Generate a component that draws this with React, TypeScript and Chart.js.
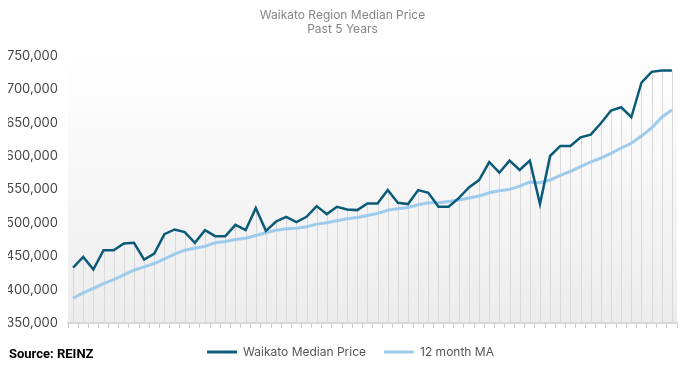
import React, { useEffect, useRef } from "react";
import { Chart, registerables } from "chart.js";
Chart.register(...registerables);

const months = [
  "Jun-16","Jul-16","Aug-16","Sep-16","Oct-16","Nov-16","Dec-16","Jan-17","Feb-17","Mar-17","Apr-17","May-17",
  "Jun-17","Jul-17","Aug-17","Sep-17","Oct-17","Nov-17","Dec-17","Jan-18","Feb-18","Mar-18","Apr-18","May-18",
  "Jun-18","Jul-18","Aug-18","Sep-18","Oct-18","Nov-18","Dec-18","Jan-19","Feb-19","Mar-19","Apr-19","May-19",
  "Jun-19","Jul-19","Aug-19","Sep-19","Oct-19","Nov-19","Dec-19","Jan-20","Feb-20","Mar-20","Apr-20","May-20",
  "Jun-20","Jul-20","Aug-20","Sep-20","Oct-20","Nov-20","Dec-20","Jan-21","Feb-21","Mar-21","Apr-21","May-21",
];

const medianPrice = [
  433000, 449000, 430000, 459000, 459000, 469000, 470000, 445000, 454000, 483000,
  490000, 486000, 470000, 489000, 480000, 480000, 497000, 489000, 522000, 488000,
  502000, 509000, 501000, 509000, 525000, 513000, 524000, 520000, 519000, 529000,
  529000, 549000, 530000, 528000, 549000, 545000, 524000, 524000, 537000, 553000,
  564000, 591000, 575000, 593000, 579000, 593000, 528000, 600000, 615000, 615000,
  628000, 632000, 649000, 668000, 673000, 658000, 710000, 726000, 728000, 728000,
];

const movingAverage = [
  387000, 395000, 402000, 409000, 415000, 422000, 429000, 434000, 439000, 446000,
  453000, 459000, 462000, 465000, 470000, 472000, 475000, 477000, 481000, 485000,
  489000, 491000, 492000, 494000, 498000, 500000, 503000, 506000, 508000, 511000,
  514000, 519000, 521000, 523000, 527000, 530000, 530000, 532000, 534000, 537000,
  540000, 545000, 548000, 550000, 555000, 561000, 560000, 564000, 571000, 577000,
  584000, 591000, 597000, 604000, 612000, 619000, 630000, 642000, 658000, 669000,
];

const seriesNames = ["Waikato Median Price", "12 month MA"];
const titleLines = ["Waikato Region Median Price", "Past 5 Years"];
const yMin = 350000;
const yMax = 750000;
const yStep = 50000;

const DARK = "#0b5a78";
const LIGHT = "#9dcbec";

const bgPlugin = {
  id: "plotBg",
  beforeDraw(chart: any) {
    const { ctx, chartArea } = chart;
    if (!chartArea) return;
    const g = ctx.createLinearGradient(0, chartArea.top, 0, chartArea.bottom);
    g.addColorStop(0, "#ffffff");
    g.addColorStop(1, "#ececec");
    ctx.save();
    ctx.fillStyle = g;
    ctx.fillRect(chartArea.left, chartArea.top, chartArea.right - chartArea.left, chartArea.bottom - chartArea.top);
    ctx.restore();
  },
};

const dropLinesPlugin = {
  id: "dropLines",
  beforeDatasetsDraw(chart: any) {
    const { ctx, chartArea } = chart;
    const meta = chart.getDatasetMeta(0);
    ctx.save();
    ctx.strokeStyle = "#d9d9d9";
    ctx.lineWidth = 1;
    meta.data.forEach((pt: any) => {
      const x = Math.round(pt.x) + 0.5;
      ctx.beginPath();
      ctx.moveTo(x, pt.y);
      ctx.lineTo(x, chartArea.bottom);
      ctx.stroke();
    });
    ctx.restore();
  },
};

const legendShiftPlugin = {
  id: "legendShift",
  afterLayout(chart: any) {
    const lg = chart.legend;
    if (lg) {
      lg.left += 8;
      lg.right += 8;
    }
  },
};

export default function App() {
  const ref = useRef<HTMLCanvasElement | null>(null);
  useEffect(() => {
    if (!ref.current) return;
    Chart.defaults.font.family = "Inter, 'Noto Sans', sans-serif";
    const chart = new Chart(ref.current, {
      type: "line",
      data: {
        labels: months,
        datasets: [
          {
            label: seriesNames[0],
            data: medianPrice,
            borderColor: DARK,
            backgroundColor: DARK,
            borderWidth: 2.5,
            pointRadius: 0,
            tension: 0,
          },
          {
            label: seriesNames[1],
            data: movingAverage,
            borderColor: LIGHT,
            backgroundColor: LIGHT,
            borderWidth: 3,
            pointRadius: 0,
            tension: 0,
          },
        ],
      },
      options: {
        animation: false,
        responsive: true,
        maintainAspectRatio: false,
        layout: { padding: { left: 8, right: 15, top: 0, bottom: 1 } },
        plugins: {
          title: {
            display: true,
            text: titleLines,
            color: "#858585",
            font: { size: 12, weight: "normal" },
            padding: { top: 8, bottom: 19 },
          },
          legend: {
            position: "bottom",
            labels: {
              boxWidth: 30,
              boxHeight: 3,
              color: "#555",
              font: { size: 12 },
              padding: 18,
              generateLabels: (c: any) =>
                (Chart.defaults.plugins.legend.labels as any)
                  .generateLabels(c)
                  .map((l: any) => ({ ...l, lineWidth: 0 })),
            },
          },
          tooltip: { enabled: false },
        },
        scales: {
          x: {
            type: "category",
            offset: true,
            grid: {
              display: true,
              drawOnChartArea: false,
              drawTicks: true,
              tickLength: 5,
              color: "#cccccc",
              offset: true,
            },
            border: { display: true, color: "#d8d8d8", width: 2 },
            ticks: { display: false },
          },
          y: {
            min: yMin,
            max: yMax,
            grid: { display: false, drawTicks: false },
            border: { display: false },
            ticks: {
              stepSize: yStep,
              color: "#444",
              font: { size: 13 },
              padding: 10,
              callback: (v: any) => Number(v).toLocaleString("en-US"),
            },
            afterFit: (s: any) => {
              s.width = 60;
            },
          },
        },
      },
      plugins: [bgPlugin, dropLinesPlugin, legendShiftPlugin],
    });
    return () => chart.destroy();
  }, []);

  return (
    <div style={{ position: "absolute", left: 0, top: 0, width: 692, height: 369 }}>
      <canvas ref={ref} />
      <div
        style={{
          position: "absolute",
          left: 9,
          top: 346,
          fontFamily: "Roboto, sans-serif",
          fontWeight: 700,
          fontSize: 13,
          color: "#000",
          lineHeight: "16px",
        }}
      >
        Source: REINZ
      </div>
    </div>
  );
}
